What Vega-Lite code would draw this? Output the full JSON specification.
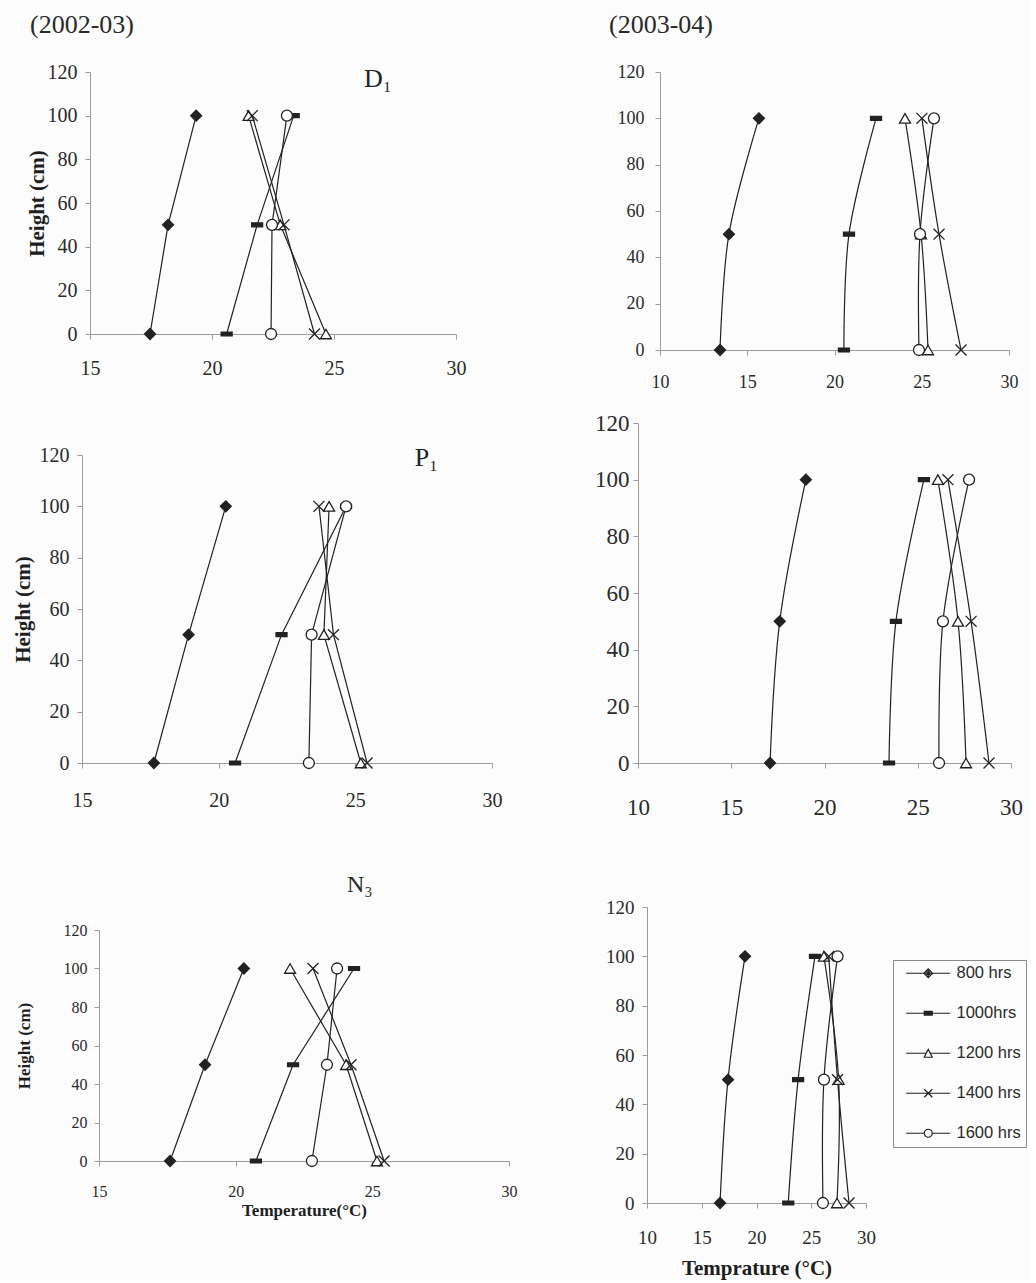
{
  "$schema": "https://vega.github.io/schema/vega-lite/v6.json",
  "background": "#fcfcfc",
  "padding": {"left": 12, "top": 12, "right": 2, "bottom": 2},
  "config": {
    "view": {"stroke": null},
    "font": "Liberation Serif",
    "axis": {"grid": false, "labelFlush": false, "domainColor": "#9c9c9c", "tickColor": "#9c9c9c", "tickSize": 5, "labelFont": "Liberation Serif", "labelColor": "#2a2a2a", "titleFont": "Liberation Serif", "titleColor": "#1e1e1e", "titleFontWeight": "bold"},
    "title": {"font": "Liberation Serif", "color": "#2a2a2a", "fontWeight": "normal"}
  },
  "datasets": {
    "d2002_D1": [
      {"series": "800 hrs", "height": 0, "temp": 17.46}, {"series": "800 hrs", "height": 50, "temp": 18.2}, {"series": "800 hrs", "height": 100, "temp": 19.35},
      {"series": "1000hrs", "height": 0, "temp": 20.6}, {"series": "1000hrs", "height": 50, "temp": 21.85}, {"series": "1000hrs", "height": 100, "temp": 23.35},
      {"series": "1200 hrs", "height": 0, "temp": 24.67}, {"series": "1200 hrs", "height": 50, "temp": 22.8}, {"series": "1200 hrs", "height": 100, "temp": 21.5},
      {"series": "1400 hrs", "height": 0, "temp": 24.2}, {"series": "1400 hrs", "height": 50, "temp": 22.95}, {"series": "1400 hrs", "height": 100, "temp": 21.65},
      {"series": "1600 hrs", "height": 0, "temp": 22.42}, {"series": "1600 hrs", "height": 50, "temp": 22.46}, {"series": "1600 hrs", "height": 100, "temp": 23.07}
    ],
    "d2003_D1": [
      {"series": "800 hrs", "height": 0, "temp": 13.44}, {"series": "800 hrs", "height": 50, "temp": 13.95}, {"series": "800 hrs", "height": 100, "temp": 15.67},
      {"series": "1000hrs", "height": 0, "temp": 20.54}, {"series": "1000hrs", "height": 50, "temp": 20.83}, {"series": "1000hrs", "height": 100, "temp": 22.38},
      {"series": "1200 hrs", "height": 0, "temp": 25.36}, {"series": "1200 hrs", "height": 50, "temp": 24.96}, {"series": "1200 hrs", "height": 100, "temp": 24.04},
      {"series": "1400 hrs", "height": 0, "temp": 27.25}, {"series": "1400 hrs", "height": 50, "temp": 25.99}, {"series": "1400 hrs", "height": 100, "temp": 25.01},
      {"series": "1600 hrs", "height": 0, "temp": 24.84}, {"series": "1600 hrs", "height": 50, "temp": 24.9}, {"series": "1600 hrs", "height": 100, "temp": 25.7}
    ],
    "d2002_P1": [
      {"series": "800 hrs", "height": 0, "temp": 17.63}, {"series": "800 hrs", "height": 50, "temp": 18.9}, {"series": "800 hrs", "height": 100, "temp": 20.26},
      {"series": "1000hrs", "height": 0, "temp": 20.6}, {"series": "1000hrs", "height": 50, "temp": 22.3}, {"series": "1000hrs", "height": 100, "temp": 24.66},
      {"series": "1200 hrs", "height": 0, "temp": 25.2}, {"series": "1200 hrs", "height": 50, "temp": 23.85}, {"series": "1200 hrs", "height": 100, "temp": 24.04},
      {"series": "1400 hrs", "height": 0, "temp": 25.43}, {"series": "1400 hrs", "height": 50, "temp": 24.2}, {"series": "1400 hrs", "height": 100, "temp": 23.67},
      {"series": "1600 hrs", "height": 0, "temp": 23.3}, {"series": "1600 hrs", "height": 50, "temp": 23.4}, {"series": "1600 hrs", "height": 100, "temp": 24.66}
    ],
    "d2003_P1": [
      {"series": "800 hrs", "height": 0, "temp": 17.08}, {"series": "800 hrs", "height": 50, "temp": 17.6}, {"series": "800 hrs", "height": 100, "temp": 19.0},
      {"series": "1000hrs", "height": 0, "temp": 23.46}, {"series": "1000hrs", "height": 50, "temp": 23.83}, {"series": "1000hrs", "height": 100, "temp": 25.33},
      {"series": "1200 hrs", "height": 0, "temp": 27.59}, {"series": "1200 hrs", "height": 50, "temp": 27.16}, {"series": "1200 hrs", "height": 100, "temp": 26.08},
      {"series": "1400 hrs", "height": 0, "temp": 28.82}, {"series": "1400 hrs", "height": 50, "temp": 27.86}, {"series": "1400 hrs", "height": 100, "temp": 26.62},
      {"series": "1600 hrs", "height": 0, "temp": 26.14}, {"series": "1600 hrs", "height": 50, "temp": 26.35}, {"series": "1600 hrs", "height": 100, "temp": 27.75}
    ],
    "d2002_N3": [
      {"series": "800 hrs", "height": 0, "temp": 17.6}, {"series": "800 hrs", "height": 50, "temp": 18.88}, {"series": "800 hrs", "height": 100, "temp": 20.3},
      {"series": "1000hrs", "height": 0, "temp": 20.74}, {"series": "1000hrs", "height": 50, "temp": 22.1}, {"series": "1000hrs", "height": 100, "temp": 24.33},
      {"series": "1200 hrs", "height": 0, "temp": 25.17}, {"series": "1200 hrs", "height": 50, "temp": 24.04}, {"series": "1200 hrs", "height": 100, "temp": 21.99},
      {"series": "1400 hrs", "height": 0, "temp": 25.43}, {"series": "1400 hrs", "height": 50, "temp": 24.22}, {"series": "1400 hrs", "height": 100, "temp": 22.83},
      {"series": "1600 hrs", "height": 0, "temp": 22.79}, {"series": "1600 hrs", "height": 50, "temp": 23.34}, {"series": "1600 hrs", "height": 100, "temp": 23.71}
    ],
    "d2003_N3": [
      {"series": "800 hrs", "height": 0, "temp": 16.67}, {"series": "800 hrs", "height": 50, "temp": 17.4}, {"series": "800 hrs", "height": 100, "temp": 18.95},
      {"series": "1000hrs", "height": 0, "temp": 22.9}, {"series": "1000hrs", "height": 50, "temp": 23.8}, {"series": "1000hrs", "height": 100, "temp": 25.34},
      {"series": "1200 hrs", "height": 0, "temp": 27.35}, {"series": "1200 hrs", "height": 50, "temp": 27.5}, {"series": "1200 hrs", "height": 100, "temp": 26.16},
      {"series": "1400 hrs", "height": 0, "temp": 28.45}, {"series": "1400 hrs", "height": 50, "temp": 27.4}, {"series": "1400 hrs", "height": 100, "temp": 26.6},
      {"series": "1600 hrs", "height": 0, "temp": 26.07}, {"series": "1600 hrs", "height": 50, "temp": 26.16}, {"series": "1600 hrs", "height": 100, "temp": 27.4}
    ]
  },
  "hconcat": [
    {
      "spacing": 63,
      "vconcat": [
        {
          "spacing": 66,
          "vconcat": [
            {
              "data": {"name": "d2002_D1"},
              "width": 374, "height": 262,
              "title": {"text": "(2002-03)", "anchor": "start", "frame": "bounds", "fontSize": 26, "offset": 24, "dx": 4},
              "encoding": {
                "x": {"field": "temp", "type": "quantitative", "scale": {"domain": [15, 30], "range": [8, 374], "nice": false, "zero": false}, "axis": {"values": [15, 20, 25, 30], "title": null, "labelFontSize": 20, "labelPadding": 19}},
                "y": {"field": "height", "type": "quantitative", "scale": {"domain": [0, 120], "nice": false}, "axis": {"values": [0, 20, 40, 60, 80, 100, 120], "title": "Height (cm)", "titleFontSize": 21, "titlePadding": 0, "labelFontSize": 20, "labelPadding": 8, "offset": -8}}
              },
              "layer": [
                {"mark": {"type": "line", "color": "#222222", "strokeWidth": 1.2}, "encoding": {"detail": {"field": "series", "type": "nominal"}, "order": {"field": "height", "type": "quantitative"}}},
                {"mark": {"type": "point", "filled": false, "stroke": "#222222", "strokeWidth": 1.3, "size": 120, "opacity": 1},
                 "encoding": {
                   "shape": {"field": "series", "type": "nominal", "scale": {"domain": ["800 hrs", "1000hrs", "1200 hrs", "1400 hrs", "1600 hrs"], "range": ["diamond", "M-1,-0.36H1V0.36H-1Z", "triangle-up", "M-1,-1L1,1M-1,1L1,-1", "circle"]}, "legend": null},
                   "fill": {"field": "series", "type": "nominal", "scale": {"domain": ["800 hrs", "1000hrs", "1200 hrs", "1400 hrs", "1600 hrs"], "range": ["#222222", "#222222", "#ffffff", "transparent", "#ffffff"]}, "legend": null}
                 }},
                {"transform": [{"filter": "datum.series === '800 hrs' && datum.height === 100"}],
                 "mark": {"type": "text", "text": "D₁", "fontSize": 26, "color": "#222222", "font": "Liberation Serif"},
                 "encoding": {"x": {"datum": 26.8}, "y": {"datum": 117}}}
              ]
            },
            {
              "data": {"name": "d2002_P1"},
              "width": 410, "height": 308,
              "encoding": {
                "x": {"field": "temp", "type": "quantitative", "scale": {"domain": [15, 30], "range": [0, 410], "nice": false, "zero": false}, "axis": {"values": [15, 20, 25, 30], "title": null, "labelFontSize": 20, "labelPadding": 22}},
                "y": {"field": "height", "type": "quantitative", "scale": {"domain": [0, 120], "nice": false}, "axis": {"values": [0, 20, 40, 60, 80, 100, 120], "title": "Height (cm)", "titleFontSize": 21, "titlePadding": 6, "labelFontSize": 20, "labelPadding": 8}}
              },
              "layer": [
                {"mark": {"type": "line", "color": "#222222", "strokeWidth": 1.2}, "encoding": {"detail": {"field": "series", "type": "nominal"}, "order": {"field": "height", "type": "quantitative"}}},
                {"mark": {"type": "point", "filled": false, "stroke": "#222222", "strokeWidth": 1.3, "size": 120, "opacity": 1},
                 "encoding": {
                   "shape": {"field": "series", "type": "nominal", "scale": {"domain": ["800 hrs", "1000hrs", "1200 hrs", "1400 hrs", "1600 hrs"], "range": ["diamond", "M-1,-0.36H1V0.36H-1Z", "triangle-up", "M-1,-1L1,1M-1,1L1,-1", "circle"]}, "legend": null},
                   "fill": {"field": "series", "type": "nominal", "scale": {"domain": ["800 hrs", "1000hrs", "1200 hrs", "1400 hrs", "1600 hrs"], "range": ["#222222", "#222222", "#ffffff", "transparent", "#ffffff"]}, "legend": null}
                 }},
                {"transform": [{"filter": "datum.series === '800 hrs' && datum.height === 100"}],
                 "mark": {"type": "text", "text": "P₁", "fontSize": 26, "color": "#222222", "font": "Liberation Serif"},
                 "encoding": {"x": {"datum": 27.6}, "y": {"datum": 119}}}
              ]
            }
          ]
        },
        {
          "data": {"name": "d2002_N3"},
          "width": 427, "height": 231,
          "title": {"text": "N₃", "anchor": "start", "frame": "group", "fontSize": 24, "offset": 25, "dx": 265},
          "encoding": {
            "x": {"field": "temp", "type": "quantitative", "scale": {"domain": [15, 30], "range": [17, 427], "nice": false, "zero": false}, "axis": {"values": [15, 20, 25, 30], "title": "Temperature(°C)", "titleFontSize": 17, "titlePadding": 3, "labelFontSize": 16, "labelPadding": 17}},
            "y": {"field": "height", "type": "quantitative", "scale": {"domain": [0, 120], "nice": false}, "axis": {"values": [0, 20, 40, 60, 80, 100, 120], "title": "Height (cm)", "titleFontSize": 17, "titlePadding": 30, "labelFontSize": 16, "labelPadding": 7, "offset": -17}}
          },
          "layer": [
            {"mark": {"type": "line", "color": "#222222", "strokeWidth": 1.2}, "encoding": {"detail": {"field": "series", "type": "nominal"}, "order": {"field": "height", "type": "quantitative"}}},
            {"mark": {"type": "point", "filled": false, "stroke": "#222222", "strokeWidth": 1.3, "size": 120, "opacity": 1},
             "encoding": {
               "shape": {"field": "series", "type": "nominal", "scale": {"domain": ["800 hrs", "1000hrs", "1200 hrs", "1400 hrs", "1600 hrs"], "range": ["diamond", "M-1,-0.36H1V0.36H-1Z", "triangle-up", "M-1,-1L1,1M-1,1L1,-1", "circle"]}, "legend": null},
               "fill": {"field": "series", "type": "nominal", "scale": {"domain": ["800 hrs", "1000hrs", "1200 hrs", "1400 hrs", "1600 hrs"], "range": ["#222222", "#222222", "#ffffff", "transparent", "#ffffff"]}, "legend": null}
             }}
          ]
        }
      ]
    },
    {
      "spacing": 79,
      "vconcat": [
        {
          "spacing": 21,
          "vconcat": [
            {
              "data": {"name": "d2003_D1"},
              "width": 371, "height": 278,
              "title": {"text": "(2003-04)", "anchor": "start", "frame": "bounds", "fontSize": 26, "offset": 25, "dx": -8},
              "encoding": {
                "x": {"field": "temp", "type": "quantitative", "scale": {"domain": [10, 30], "range": [22, 371], "nice": false, "zero": false}, "axis": {"values": [10, 15, 20, 25, 30], "title": null, "labelFontSize": 18, "labelPadding": 18}},
                "y": {"field": "height", "type": "quantitative", "scale": {"domain": [0, 120], "nice": false}, "axis": {"values": [0, 20, 40, 60, 80, 100, 120], "title": null, "labelFontSize": 18, "labelPadding": 11, "offset": -22}}
              },
              "layer": [
                {"mark": {"type": "line", "color": "#222222", "strokeWidth": 1.2, "interpolate": "catmull-rom"}, "encoding": {"detail": {"field": "series", "type": "nominal"}, "order": {"field": "height", "type": "quantitative"}}},
                {"mark": {"type": "point", "filled": false, "stroke": "#222222", "strokeWidth": 1.3, "size": 120, "opacity": 1},
                 "encoding": {
                   "shape": {"field": "series", "type": "nominal", "scale": {"domain": ["800 hrs", "1000hrs", "1200 hrs", "1400 hrs", "1600 hrs"], "range": ["diamond", "M-1,-0.36H1V0.36H-1Z", "triangle-up", "M-1,-1L1,1M-1,1L1,-1", "circle"]}, "legend": null},
                   "fill": {"field": "series", "type": "nominal", "scale": {"domain": ["800 hrs", "1000hrs", "1200 hrs", "1400 hrs", "1600 hrs"], "range": ["#222222", "#222222", "#ffffff", "transparent", "#ffffff"]}, "legend": null}
                 }}
              ]
            },
            {
              "data": {"name": "d2003_P1"},
              "width": 373, "height": 340,
              "encoding": {
                "x": {"field": "temp", "type": "quantitative", "scale": {"domain": [10, 30], "range": [0, 373], "nice": false, "zero": false}, "axis": {"values": [10, 15, 20, 25, 30], "title": null, "labelFontSize": 23, "labelPadding": 28}},
                "y": {"field": "height", "type": "quantitative", "scale": {"domain": [0, 120], "nice": false}, "axis": {"values": [0, 20, 40, 60, 80, 100, 120], "title": null, "labelFontSize": 23, "labelPadding": 4}}
              },
              "layer": [
                {"mark": {"type": "line", "color": "#222222", "strokeWidth": 1.2, "interpolate": "catmull-rom"}, "encoding": {"detail": {"field": "series", "type": "nominal"}, "order": {"field": "height", "type": "quantitative"}}},
                {"mark": {"type": "point", "filled": false, "stroke": "#222222", "strokeWidth": 1.3, "size": 120, "opacity": 1},
                 "encoding": {
                   "shape": {"field": "series", "type": "nominal", "scale": {"domain": ["800 hrs", "1000hrs", "1200 hrs", "1400 hrs", "1600 hrs"], "range": ["diamond", "M-1,-0.36H1V0.36H-1Z", "triangle-up", "M-1,-1L1,1M-1,1L1,-1", "circle"]}, "legend": null},
                   "fill": {"field": "series", "type": "nominal", "scale": {"domain": ["800 hrs", "1000hrs", "1200 hrs", "1400 hrs", "1600 hrs"], "range": ["#222222", "#222222", "#ffffff", "transparent", "#ffffff"]}, "legend": null}
                 }}
              ]
            }
          ]
        },
        {
          "data": {"name": "d2003_N3"},
          "width": 228, "height": 296,
          "resolve": {"scale": {"shape": "independent"}},
          "encoding": {
            "x": {"field": "temp", "type": "quantitative", "scale": {"domain": [10, 30], "range": [9, 228], "nice": false, "zero": false}, "axis": {"values": [10, 15, 20, 25, 30], "title": "Temprature (°C)", "titleFontSize": 21, "titlePadding": 10, "labelFontSize": 19, "labelPadding": 20}},
            "y": {"field": "height", "type": "quantitative", "scale": {"domain": [0, 120], "nice": false}, "axis": {"values": [0, 20, 40, 60, 80, 100, 120], "title": null, "labelFontSize": 19, "labelPadding": 8, "offset": -9}}
          },
          "layer": [
            {"mark": {"type": "line", "color": "#222222", "strokeWidth": 1.2, "interpolate": "catmull-rom"}, "encoding": {"detail": {"field": "series", "type": "nominal"}, "order": {"field": "height", "type": "quantitative"}}},
            {"mark": {"type": "point", "filled": false, "stroke": "#222222", "strokeWidth": 1.3, "size": 120, "opacity": 1},
             "encoding": {
               "shape": {"field": "series", "type": "nominal", "scale": {"domain": ["800 hrs", "1000hrs", "1200 hrs", "1400 hrs", "1600 hrs"], "range": ["diamond", "M-1,-0.36H1V0.36H-1Z", "triangle-up", "M-1,-1L1,1M-1,1L1,-1", "circle"]}, "legend": null},
               "fill": {"field": "series", "type": "nominal", "scale": {"domain": ["800 hrs", "1000hrs", "1200 hrs", "1400 hrs", "1600 hrs"], "range": ["#222222", "#222222", "#ffffff", "transparent", "#ffffff"]}, "legend": null}
             }},
            {"mark": {"type": "point", "filled": false, "color": "#222222", "opacity": 0, "size": 64},
             "encoding": {
               "shape": {"field": "series", "type": "nominal",
                 "scale": {"domain": ["800 hrs", "1000hrs", "1200 hrs", "1400 hrs", "1600 hrs"], "range": [
                   "M-5.5,0H5.5M0,-1.1L1.1,0L0,1.1L-1.1,0ZM0,-1.1V1.1M-0.5,-0.5L0.5,0.5M-0.5,0.5L0.5,-0.5",
                   "M-5.5,0H5.5M-1,-0.45H1V0.45H-1ZM-1,-0.22H1M-1,0.22H1",
                   "M-5.5,0H-0.5M0.5,0H5.5M0,-1L1,1H-1Z",
                   "M-5.5,0H5.5M-1,-1L1,1M-1,1L1,-1",
                   "M-5.5,0H-1M1,0H5.5M1,0A1,1 0 1,1 -1,0A1,1 0 1,1 1,0"
                 ]},
                 "legend": {"orient": "none", "legendX": 255, "legendY": 53, "title": null, "symbolSize": 64, "symbolStrokeWidth": 1.2, "symbolStrokeColor": "#222222", "symbolFillColor": "transparent", "symbolOpacity": 1, "symbolOffset": 22, "labelOffset": 20, "labelFont": "Liberation Sans", "labelFontSize": 16.5, "labelColor": "#2a2a2a", "rowPadding": 23, "padding": 5, "strokeColor": "#8a8a8a"}
               }
             }}
          ]
        }
      ]
    }
  ],
  "spacing": 77
}
